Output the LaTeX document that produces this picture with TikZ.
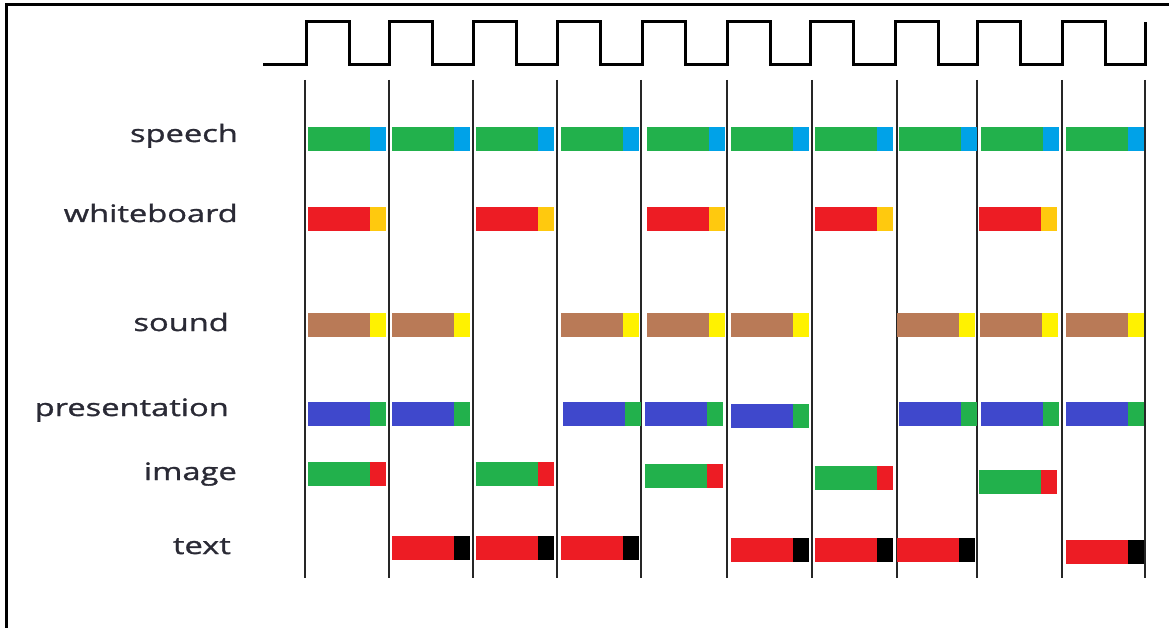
\documentclass[tikz,border=0pt]{standalone}
\usepackage{fontspec}
\newfontfamily\lblfont[FakeStretch=1.36,FakeBold=1.2]{Open Sans}
\usetikzlibrary{positioning}
\definecolor{pgreen}{HTML}{22B14C}
\definecolor{pcyan}{HTML}{00A2E8}
\definecolor{pred}{HTML}{ED1C24}
\definecolor{porange}{HTML}{FFC90E}
\definecolor{pbrown}{HTML}{B97A57}
\definecolor{pyellow}{HTML}{FFF200}
\definecolor{pblue}{HTML}{3F48CC}
\definecolor{ptext}{HTML}{2A2A35}
% one time slot: long part + short tail
\newcommand{\slotbar}[4]{%
  \fill[#3] (#1,#2) rectangle ++(62,24);
  \fill[#4] (#1+62,#2) rectangle ++(16,24);}

\begin{document}
\begin{tikzpicture}[
    x=1pt, y=-1pt,
    frame/.style={line width=3pt},
    clock/.style={line width=3pt, line join=miter},
    tick/.style={line width=1.6pt, black!85},
    lbl/.style={font=\lblfont\fontsize{24}{28}\selectfont, text=ptext, inner sep=0pt, anchor=base east}
]
\useasboundingbox (0,0) rectangle (1169,628);

% Frame
\draw[frame] (6,628) -- (6,5) -- (1169,5);

% Clock
\draw[clock] (263,65)
  \foreach \r in {306,389,473,557,642,727,810,895,977,1062} { -- (\r,65) -- (\r,22) -- (\r+43,22) -- (\r+43,65) }
  -- (1145,65) -- (1145,22);

% Slot boundaries
\foreach \x in {305,389,473,557,641,727,812,897,977,1062,1145}
  \draw[tick] (\x,80) -- (\x,578);

% Labels
\node[lbl] (speech) at (238,142) {speech};
\node[lbl] (whiteboard) at (238,222) {whiteboard};
\node[lbl] (sound) at (229,331) {sound};
\node[lbl] (presentation) at (229,416) {presentation};
\node[lbl] (image) at (237,480) {image};
\node[lbl] (text) at (231,554) {text};

% Rows
\foreach \x/\y in {308/127,392/127,476/127,561/127,647/127,731/127,815/127,899/127,981/127,1066/127}
  {\slotbar{\x}{\y}{pgreen}{pcyan}}
\foreach \x/\y in {308/207,476/207,647/207,815/207,979/207}
  {\slotbar{\x}{\y}{pred}{porange}}
\foreach \x/\y in {308/313,392/313,561/313,647/313,731/313,897/313,980/313,1066/313}
  {\slotbar{\x}{\y}{pbrown}{pyellow}}
\foreach \x/\y in {308/402,392/402,563/402,645/402,731/404,899/402,981/402,1066/402}
  {\slotbar{\x}{\y}{pblue}{pgreen}}
\foreach \x/\y in {308/462,476/462,645/464,815/466,979/470}
  {\slotbar{\x}{\y}{pgreen}{pred}}
\foreach \x/\y in {392/536,476/536,561/536,731/538,815/538,897/538,1066/540}
  {\slotbar{\x}{\y}{pred}{black}}

\end{tikzpicture}
\end{document}
